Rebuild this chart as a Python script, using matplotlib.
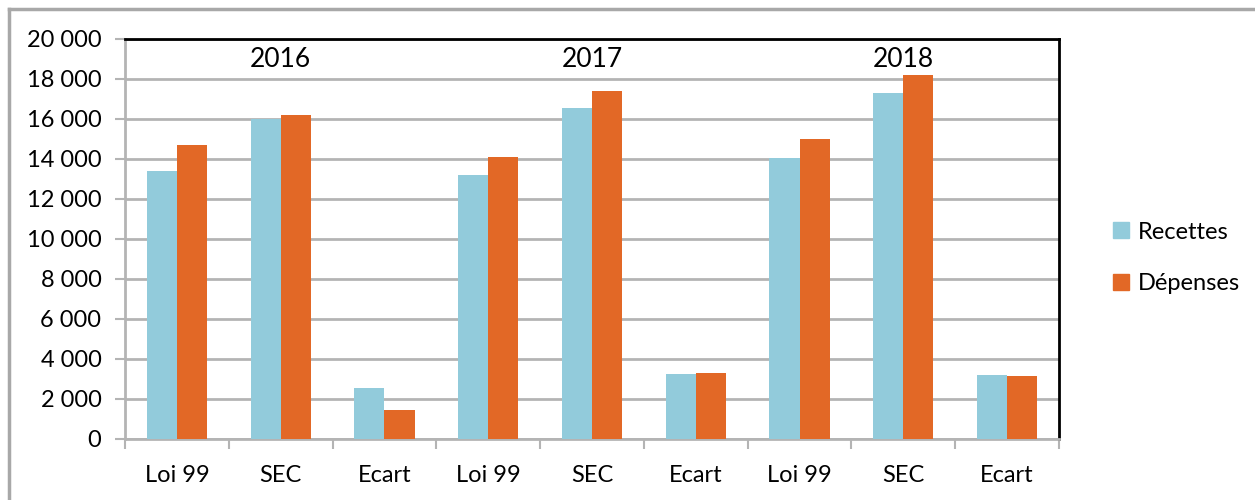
import numpy as np
import matplotlib.pyplot as plt
from matplotlib.patches import Patch
from matplotlib.lines import Line2D
from matplotlib.ticker import FuncFormatter

categories = ["Loi 99", "SEC", "Ecart"] * 3
years = ["2016", "2017", "2018"]
recettes = [13400, 16000, 2550, 13200, 16550, 3250, 14050, 17300, 3200]
depenses = [14700, 16200, 1450, 14100, 17400, 3300, 15000, 18200, 3150]

c_rec = "#92CBDB"
c_dep = "#E26826"
grid_c = "#B4B4B4"

plt.rcParams["font.family"] = ["Lato", "DejaVu Sans"]

fig = plt.figure(figsize=(12.55, 5), dpi=100)
ax = fig.add_axes([125 / 1255, 1 - 438.5 / 500, (1059 - 125) / 1255, 400 / 500])

x = np.arange(len(categories))
w = 0.29
ax.bar(x - w / 2, recettes, w, color=c_rec, zorder=3)
ax.bar(x + w / 2, depenses, w, color=c_dep, zorder=3)

ax.set_xlim(-0.5, len(categories) - 0.5)
ax.set_ylim(0, 20000)
ax.set_yticks(np.arange(0, 20001, 2000))
ax.yaxis.set_major_formatter(FuncFormatter(lambda v, p: f"{int(v):,}".replace(",", " ")))
ax.yaxis.grid(True, color=grid_c, linewidth=2, zorder=0)

ax.set_xticks(x)
ax.set_xticklabels(categories)
ax.set_xticks(np.arange(-0.5, len(categories)), minor=True)
ax.tick_params(axis="x", which="major", length=0, pad=19, labelsize=17)
ax.tick_params(axis="x", which="minor", length=7, width=1.5, color=grid_c)
ax.tick_params(axis="y", length=7, width=1.5, color=grid_c, labelsize=17, pad=10)

for s in ["left", "bottom"]:
    ax.spines[s].set_color(grid_c)
    ax.spines[s].set_linewidth(2)
for s in ["top", "right"]:
    ax.spines[s].set_color("black")
    ax.spines[s].set_linewidth(2)

# year labels above the SEC group of each year
for i, yr in enumerate(years):
    ax.text(3 * i + 1, 18950, yr, ha="center", va="center", fontsize=19, zorder=4)

handles = [Patch(color=c_rec, label="Recettes"), Patch(color=c_dep, label="Dépenses")]
fig.legend(handles=handles, loc="center left", bbox_to_anchor=(1092 / 1255, 1 - 258 / 500),
           frameon=False, fontsize=17, handlelength=0.65, handleheight=0.65,
           handletextpad=0.4, labelspacing=1.3)

# outer chart border
fig.add_artist(Line2D([9 / 1255, 1], [1 - 9 / 500] * 2, color="#A8A8A8", lw=2.5))
fig.add_artist(Line2D([9 / 1255] * 2, [0, 1 - 9 / 500], color="#A8A8A8", lw=2.5))

fig.savefig("out.png", dpi=100)
